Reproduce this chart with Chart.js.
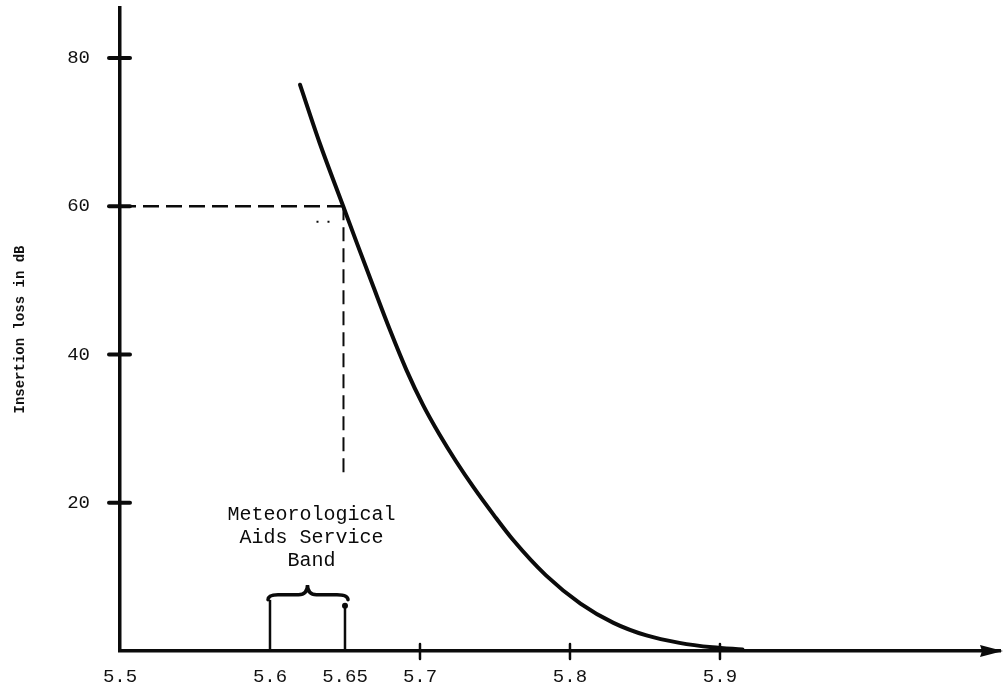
<!DOCTYPE html>
<html>
<head>
<meta charset="utf-8">
<script src="https://cdn.jsdelivr.net/npm/chart.js@4.4.0/dist/chart.umd.min.js"></script>
<style>
  html, body { margin: 0; padding: 0; background: #fff; }
  #wrap { width: 1005px; height: 693px; }
</style>
</head>
<body>
<div id="wrap"><canvas id="myChart"></canvas></div>
<script>
// curve (frequency, insertion loss in dB)
const freq = [5.620, 5.633, 5.649, 5.658, 5.669, 5.680, 5.691, 5.702, 5.713, 5.724,
              5.736, 5.749, 5.762, 5.784, 5.807, 5.829, 5.851, 5.873, 5.895, 5.915];
const loss = [76.4, 68.6, 59.9, 55.0, 49.1, 43.3, 37.9, 33.2, 29.2, 25.6,
              22.0, 18.4, 15.0, 10.2, 6.4, 3.8, 2.1, 1.1, 0.5, 0.2];

const xTicks = [5.5, 5.6, 5.65, 5.7, 5.8, 5.9];
const xTickLabels = ['5.5', '5.6', '5.65', '5.7', '5.8', '5.9'];
const yTicks = [20, 40, 60, 80];

// 60 dB marker
const markFreq = 5.649;
const markLoss = 60;
const markBottom = 24;

// band bracket
const bandEdges = [5.6, 5.65];
const bandLegTop = [6.9, 6.1];
const braceLevel = 7.6;
const bracePeak = 8.9;
const bandLabel = ['Meteorological', 'Aids Service', 'Band'];
const bandLabelY = [18.4, 15.3, 12.2];

const FONT = "'Liberation Mono', 'Courier New', monospace";
const INK = '#0b0b0b';

const noPad = function (scale) {
  scale.paddingTop = 0;
  scale.paddingBottom = 0;
  scale.paddingLeft = 0;
  scale.paddingRight = 0;
};

const extras = {
  id: 'extras',
  afterDatasetsDraw(chart) {
    const ctx = chart.ctx;
    const xs = chart.scales.x;
    const ys = chart.scales.y;
    const area = chart.chartArea;
    ctx.save();
    ctx.strokeStyle = INK;
    ctx.fillStyle = INK;
    ctx.lineCap = 'round';

    // y tick marks crossing the axis
    ctx.lineWidth = 4;
    for (let v of yTicks) {
      let py = ys.getPixelForValue(v);
      ctx.beginPath();
      ctx.moveTo(area.left - 11, py);
      ctx.lineTo(area.left + 10, py);
      ctx.stroke();
    }
    // x tick marks
    ctx.lineWidth = 2.5;
    for (let v of [5.7, 5.8, 5.9]) {
      let px = xs.getPixelForValue(v);
      ctx.beginPath();
      ctx.moveTo(px, area.bottom - 7);
      ctx.lineTo(px, area.bottom + 8);
      ctx.stroke();
    }

    // curly brace over the band
    let xl = xs.getPixelForValue(bandEdges[0]);
    let xr = xs.getPixelForValue(bandEdges[1]);
    let xm = (xl + xr) / 2;
    let yb = ys.getPixelForValue(braceLevel);
    let yp = ys.getPixelForValue(bracePeak);
    let yl = ys.getPixelForValue(bandLegTop[0]);
    let yr = ys.getPixelForValue(bandLegTop[1]);
    ctx.lineWidth = 3.5;
    ctx.beginPath();
    ctx.moveTo(xl - 2, yl);
    ctx.quadraticCurveTo(xl - 2, yb, xl + 8, yb);
    ctx.lineTo(xm - 9, yb);
    ctx.quadraticCurveTo(xm, yb, xm, yp);
    ctx.quadraticCurveTo(xm, yb, xm + 9, yb);
    ctx.lineTo(xr - 8, yb);
    ctx.quadraticCurveTo(xr + 3, yb, xr + 3, yl);
    ctx.stroke();
    ctx.beginPath();
    ctx.arc(xr, yr, 3, 0, Math.PI * 2);
    ctx.fill();

    // band text
    ctx.font = `20px ${FONT}`;
    ctx.textAlign = 'center';
    ctx.textBaseline = 'middle';
    for (let i = 0; i < bandLabel.length; i++) {
      ctx.fillText(bandLabel[i], xm + 4, ys.getPixelForValue(bandLabelY[i]));
    }

    // arrow head at end of x axis
    let ay = area.bottom;
    ctx.beginPath();
    ctx.moveTo(area.right + 3, ay);
    ctx.lineTo(area.right - 20, ay - 6);
    ctx.lineTo(area.right - 18, ay);
    ctx.lineTo(area.right - 20, ay + 6);
    ctx.closePath();
    ctx.fill();
    ctx.restore();
  }
};

const ctx = document.getElementById('myChart').getContext('2d');
const myChart = new Chart(ctx, {
  type: 'line',
  data: {
    datasets: [
      {
        data: freq.map((f, i) => ({x: f, y: loss[i]})),
        borderColor: INK,
        borderWidth: 4,
        borderCapStyle: 'round',
        cubicInterpolationMode: 'monotone',
        pointRadius: 0,
        clip: false
      },
      {
        data: [{x: 5.5, y: markLoss}, {x: markFreq, y: markLoss}],
        borderColor: INK,
        borderWidth: 2.5,
        borderDash: [16, 7],
        pointRadius: 0
      },
      {
        data: [{x: markFreq, y: markLoss}, {x: markFreq, y: markBottom}],
        borderColor: INK,
        borderWidth: 2,
        borderDash: [14, 7],
        pointRadius: 0
      },
      {
        data: [{x: 5.631, y: 57.9}, {x: 5.640, y: 57.9}],
        borderColor: INK,
        borderWidth: 2,
        borderDash: [2, 9],
        pointRadius: 0
      },
      {
        data: [{x: bandEdges[0], y: 0}, {x: bandEdges[0], y: bandLegTop[0]}],
        borderColor: INK,
        borderWidth: 2.5,
        pointRadius: 0,
        clip: false
      },
      {
        data: [{x: bandEdges[1], y: 0}, {x: bandEdges[1], y: bandLegTop[1]}],
        borderColor: INK,
        borderWidth: 2.5,
        pointRadius: 0,
        clip: false
      }
    ]
  },
  options: {
    responsive: true,
    maintainAspectRatio: false,
    animation: false,
    layout: { padding: { top: 8, right: 5, left: 0, bottom: 0 } },
    plugins: { legend: { display: false }, tooltip: { enabled: false } },
    scales: {
      x: {
        type: 'linear',
        min: 5.5,
        max: 6.0867,
        afterBuildTicks: (scale) => { scale.ticks = xTicks.map(v => ({value: v})); },
        afterFit: (scale) => { scale.height = 42; noPad(scale); },
        grid: { display: false, drawTicks: false },
        border: { display: true, color: INK, width: 3.5 },
        ticks: {
          color: '#111',
          font: { family: FONT, size: 19 },
          padding: 15,
          maxRotation: 0,
          autoSkip: false,
          callback: (value) => {
            let i = xTicks.findIndex(t => Math.abs(t - value) < 1e-6);
            return i >= 0 ? xTickLabels[i] : '';
          }
        }
      },
      y: {
        type: 'linear',
        min: 0,
        max: 86.75,
        afterBuildTicks: (scale) => { scale.ticks = yTicks.map(v => ({value: v})); },
        afterFit: (scale) => { scale.width = 120; noPad(scale); },
        grid: { display: false, drawTicks: false },
        border: { display: true, color: INK, width: 3.5 },
        ticks: {
          color: '#111',
          font: { family: FONT, size: 19 },
          padding: 30
        },
        title: {
          display: true,
          text: 'Insertion loss in dB',
          color: '#111',
          font: { family: FONT, size: 14, weight: 'bold' },
          padding: { top: 12, bottom: 0 }
        }
      }
    }
  },
  plugins: [extras]
});
</script>
</body>
</html>
